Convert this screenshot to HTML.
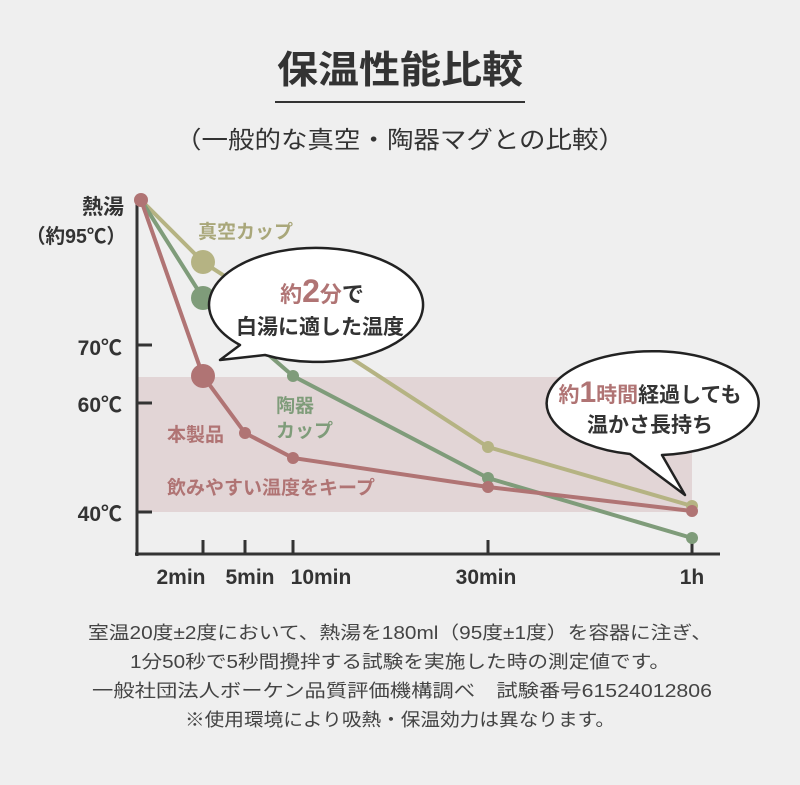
<!DOCTYPE html>
<html><head><meta charset="utf-8"><style>
body{margin:0;background:#efefef;}
svg{display:block;font-family:"Liberation Sans","Noto Sans CJK JP",sans-serif;}
</style></head><body>
<svg width="800" height="785" viewBox="0 0 800 785">
<rect width="800" height="785" fill="#efefef"/>
<text x="277" y="83" font-size="38" font-weight="bold" fill="#333" textLength="246" lengthAdjust="spacingAndGlyphs">保温性能比較</text>
<rect x="275" y="101" width="250" height="2" fill="#333"/>
<text x="175" y="148" font-size="24" fill="#333" textLength="450" lengthAdjust="spacingAndGlyphs">（一般的な真空・陶器マグとの比較）</text>
<rect x="137" y="377" width="555" height="135" fill="#e2d5d6"/>
<g fill="#333" font-weight="bold" font-size="21" text-anchor="end">
<text x="124" y="214">熱湯</text>
<text x="126" y="243" font-size="20" textLength="100" lengthAdjust="spacingAndGlyphs">（約95℃）</text>
<text x="122" y="355">70℃</text>
<text x="122" y="412">60℃</text>
<text x="122" y="521">40℃</text>
</g>
<g stroke="#333" stroke-width="3">
<line x1="137" y1="202" x2="137" y2="556"/>
<line x1="135" y1="554" x2="720" y2="554"/>
<line x1="137" y1="345" x2="152" y2="345"/>
<line x1="137" y1="403" x2="152" y2="403"/>
<line x1="137" y1="512" x2="152" y2="512"/>
<line x1="203" y1="554" x2="203" y2="540"/>
<line x1="245" y1="554" x2="245" y2="540"/>
<line x1="293" y1="554" x2="293" y2="540"/>
<line x1="488" y1="554" x2="488" y2="540"/>
<line x1="692" y1="554" x2="692" y2="540"/>
</g>
<g fill="#333" font-weight="bold" font-size="21" text-anchor="middle">
<text x="181" y="584">2min</text><text x="250" y="584">5min</text><text x="321" y="584">10min</text><text x="486" y="584">30min</text><text x="692" y="584">1h</text>
</g>
<g fill="none" stroke-width="4">
<polyline points="141,200 203,262 488,447 692,506" stroke="#b5b383"/>
<polyline points="141,200 203,298 293,376 488,478 692,538" stroke="#7f9c7a"/>
<polyline points="141,200 203,376 245,433 293,458 488,487 692,511" stroke="#b07474"/>
</g>
<g fill="#b5b383"><circle cx="203" cy="262" r="12"/><circle cx="488" cy="447" r="6"/><circle cx="692" cy="506" r="6"/></g>
<g fill="#7f9c7a"><circle cx="203" cy="298" r="12"/><circle cx="293" cy="376" r="6"/><circle cx="488" cy="478" r="6"/><circle cx="692" cy="538" r="6"/></g>
<g fill="#b07474"><circle cx="141" cy="200" r="7"/><circle cx="203" cy="376" r="12"/><circle cx="245" cy="433" r="6"/><circle cx="293" cy="458" r="6"/><circle cx="488" cy="487" r="6"/><circle cx="692" cy="511" r="6"/></g>
<text x="198" y="238" font-size="19" font-weight="bold" fill="#a9a77a">真空カップ</text>
<text x="276" y="412" font-size="19" font-weight="bold" fill="#7f9c7a">陶器</text>
<text x="276" y="437" font-size="19" font-weight="bold" fill="#7f9c7a">カップ</text>
<text x="167" y="441" font-size="19" font-weight="bold" fill="#b07474">本製品</text>
<text x="167" y="494" font-size="19" font-weight="bold" fill="#b07474">飲みやすい温度をキープ</text>
<path d="M240,345 A107,57 0 1 1 265,355 L220,360 Z" fill="#fff" stroke="#222" stroke-width="2.5" stroke-linejoin="round"/>
<text x="322" y="302" font-size="22" font-weight="bold" fill="#b07474" text-anchor="middle">約<tspan font-size="32">2</tspan>分<tspan fill="#333">で</tspan></text>
<text x="320" y="334" font-size="21" font-weight="bold" fill="#333" text-anchor="middle">白湯に適した温度</text>
<path d="M662,455 A106,52 0 1 0 630,454 L685,495 Z" fill="#fff" stroke="#222" stroke-width="2.5" stroke-linejoin="round"/>
<text x="650" y="402" font-size="21" font-weight="bold" fill="#333" text-anchor="middle"><tspan fill="#b07474">約<tspan font-size="30">1</tspan>時間</tspan>経過しても</text>
<text x="650" y="432" font-size="21" font-weight="bold" fill="#333" text-anchor="middle">温かさ長持ち</text>
<g fill="#444" font-size="18">
<text x="88" y="639" textLength="624" lengthAdjust="spacingAndGlyphs">室温20度±2度において、熱湯を180ml（95度±1度）を容器に注ぎ、</text>
<text x="130" y="668" textLength="540" lengthAdjust="spacingAndGlyphs">1分50秒で5秒間攪拌する試験を実施した時の測定値です。</text>
<text x="92" y="697" textLength="620" lengthAdjust="spacingAndGlyphs">一般社団法人ボーケン品質評価機構調べ　試験番号61524012806</text>
<text x="185" y="726" textLength="430" lengthAdjust="spacingAndGlyphs">※使用環境により吸熱・保温効力は異なります。</text>
</g>
</svg>
</body></html>
